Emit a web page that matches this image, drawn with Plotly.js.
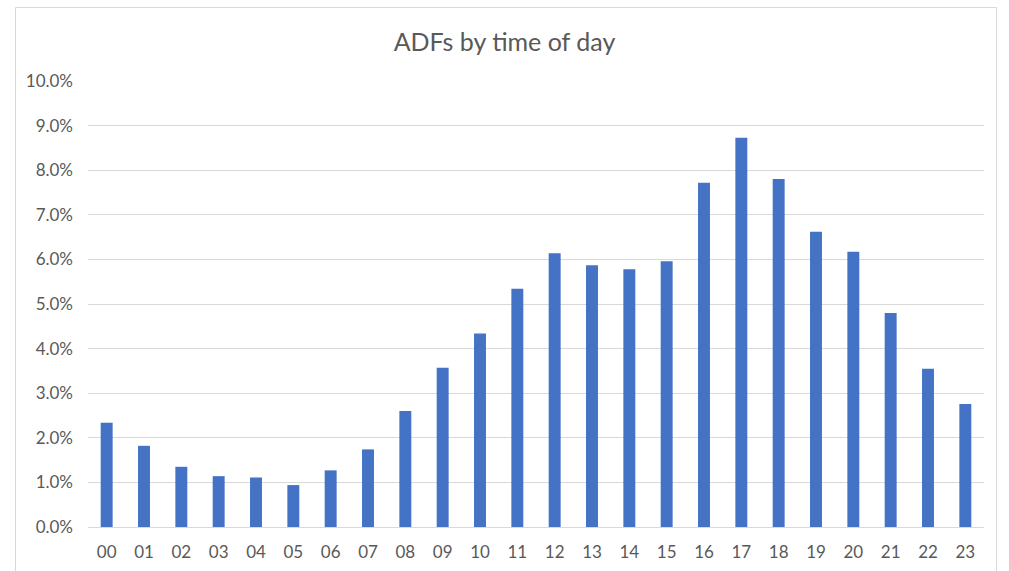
<!DOCTYPE html>
<html>
<head>
<meta charset="utf-8">
<script src="https://cdn.plot.ly/plotly-3.0.1.min.js"></script>
<style>
  html, body { margin: 0; padding: 0; background: #ffffff; }
  #chart { width: 1009px; height: 571px; }
</style>
</head>
<body>
<div id="chart"></div>
<script>
// Hour of day (00–23) and share of ADFs in each hour
const hours = ["00","01","02","03","04","05","06","07","08","09","10","11",
               "12","13","14","15","16","17","18","19","20","21","22","23"];
const shares = [0.0234, 0.0182, 0.0135, 0.0114, 0.0111, 0.0094, 0.0127, 0.0174,
                0.0260, 0.0357, 0.0434, 0.0534, 0.0614, 0.0587, 0.0578, 0.0596,
                0.0772, 0.0873, 0.0780, 0.0662, 0.0617, 0.0480, 0.0355, 0.0276];

const textColor = "#595959";
const gridColor = "#d9d9d9";
const font = "Lato, 'Open Sans', sans-serif";

const trace = {
  type: "bar",
  x: hours,
  y: shares,
  marker: { color: "#4472c4" },
  hoverinfo: "x+y"
};

const layout = {
  width: 1009,
  height: 571,
  margin: { l: 88, r: 25, t: 81, b: 44 },
  paper_bgcolor: "#ffffff",
  plot_bgcolor: "#ffffff",
  bargap: 0.68,
  showlegend: false,
  title: {
    text: "ADFs by time of day",
    font: { family: font, size: 25, color: textColor },
    x: 0.5, xanchor: "center",
    y: 1 - 42 / 571, yanchor: "middle"
  },
  xaxis: {
    type: "category",
    showgrid: false,
    showline: true,
    linecolor: gridColor,
    linewidth: 1,
    ticks: "",
    ticklabelstandoff: 10,
    tickfont: { family: font, size: 17, color: textColor }
  },
  yaxis: {
    range: [0, 0.10],
    dtick: 0.01,
    tick0: 0,
    tickformat: ".1%",
    showgrid: true,
    gridcolor: gridColor,
    gridwidth: 1,
    zeroline: false,
    showline: false,
    ticks: "",
    ticklabelstandoff: 14,
    tickfont: { family: font, size: 17, color: textColor }
  },
  shapes: [{
    type: "rect",
    xref: "paper", yref: "paper",
    x0: (15.5 - 88) / 896, x1: (996.5 - 88) / 896,
    y0: -0.2, y1: (527 - 7.5) / 446,
    line: { color: gridColor, width: 1 },
    fillcolor: "rgba(0,0,0,0)",
    layer: "below"
  }]
};

Plotly.newPlot("chart", [trace], layout, { displayModeBar: false, staticPlot: true });
</script>
</body>
</html>
